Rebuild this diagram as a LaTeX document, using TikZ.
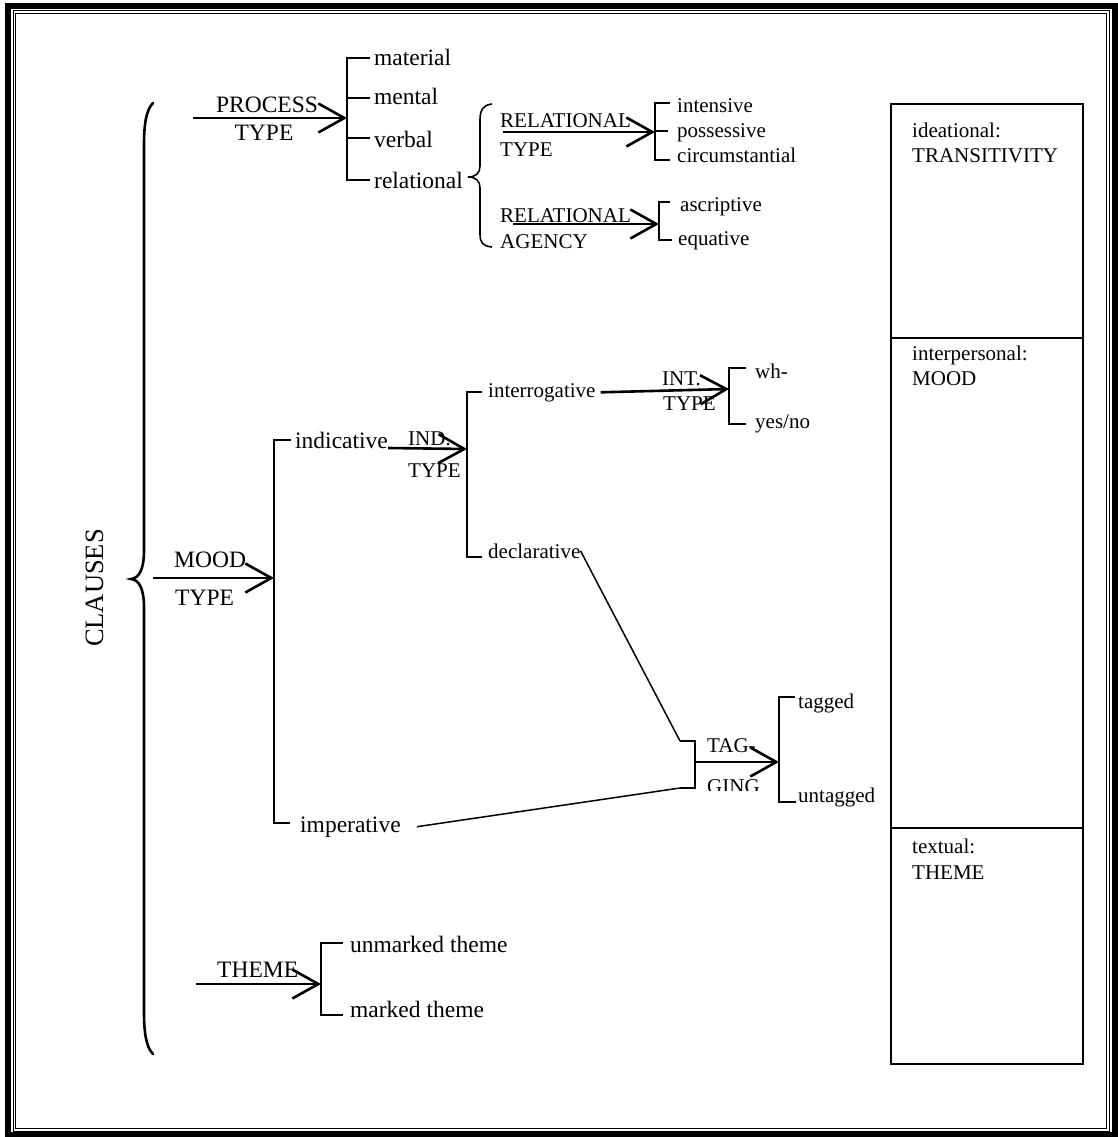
\documentclass[tikz,border=0pt]{standalone}
\usepackage{fontspec}
\setmainfont{Liberation Serif}
\usepackage{tikz}
\usetikzlibrary{arrows.meta}

\begin{document}
\begin{tikzpicture}[x=1pt, y=-1pt,
    lab/.style={font=\fontsize{23.5}{28}\selectfont, inner sep=0pt, anchor=base west},
    sublab/.style={font=\fontsize{21}{25}\selectfont, inner sep=0pt, anchor=base west},
    sysarrow/.style={line width=2.6pt, -{Straight Barb[length=26pt, width=29pt, line width=2.6pt]}},
    brk/.style={line width=1.9pt},
    joinline/.style={line width=1.5pt}]
        \useasboundingbox (0,0) rectangle (1118,1137);
        % page frame
        \draw[line width=6pt] (8,6) rectangle (1114.5,1134.5);
        \draw[line width=0.9pt] (13,10.8) rectangle (1109,1131);
        \draw[line width=0.9pt] (15.5,13.2) rectangle (1106.5,1128);
        % clauses brace
        \draw[line width=2.6pt, line cap=round] (153,103) .. controls (146,110) and (144,125) .. (144,145) -- (144,550)
          .. controls (144,570) and (139,578) .. (131,579) .. controls (139,580) and (144,588) .. (144,608)
          -- (144,1012) .. controls (144,1032) and (146,1047) .. (153,1054);
        \node[font=\fontsize{26.5}{32}\selectfont, inner sep=0pt, rotate=90, anchor=base] (clauses) at (103,588) {CLAUSES};
        % process type
        \node[lab, anchor=base] (proc) at (267,113) {PROCESS};
        \node[lab, anchor=base] (proctype) at (264,140) {TYPE};
        \coordinate (procin) at (193,118);
        \coordinate (procbr) at (347,118);
        \draw[sysarrow] (procin) -- (procbr);
        \draw[brk] (370,58) -- (347,58) -- (347,180) -- (370,180) (347,98) -- (370,98) (347,138) -- (370,138);
        \node[lab] (material) at (374,66) {material};
        \node[lab] (mental) at (374,105) {mental};
        \node[lab] (verbal) at (374,147) {verbal};
        \node[lab] (relational) at (374,188) {relational};
        % relational brace
        \draw[line width=1.6pt] (492,104) .. controls (483,105) and (480,110) .. (480,120) -- (480,166)
          .. controls (480,173) and (476,177) .. (468,177) .. controls (476,177) and (480,181) .. (480,188)
          -- (480,234) .. controls (480,243) and (483,246) .. (492,247);
        \node[sublab] (reltype) at (500,128) {RELATIONAL};
        \node[sublab] (reltype2) at (500,157) {TYPE};
        \coordinate (relin) at (503,132);
        \coordinate (relbr) at (655,132);
        \draw[sysarrow] (relin) -- (relbr);
        \draw[brk] (670,103) -- (655,103) -- (655,160) -- (670,160) (655,131) -- (668,131);
        \node[sublab] (intensive) at (677,113) {intensive};
        \node[sublab] (possessive) at (677,138) {possessive};
        \node[sublab] (circum) at (677,162) {circumstantial};
        \node[sublab] (relag) at (500,222) {RELATIONAL};
        \node[sublab] (relag2) at (500,248) {AGENCY};
        \coordinate (agin) at (513,224);
        \coordinate (agbr) at (659,224);
        \draw[sysarrow] (agin) -- (agbr);
        \draw[brk] (670,202) -- (659,202) -- (659,240) -- (672,240);
        \node[sublab] (ascriptive) at (680,211) {ascriptive};
        \node[sublab] (equative) at (678,245) {equative};
        % mood type
        \node[lab] (mood) at (174,567) {MOOD};
        \node[lab] (moodtype) at (175,605) {TYPE};
        \coordinate (moodin) at (153,578);
        \coordinate (moodbr) at (274,578);
        \draw[sysarrow] (moodin) -- (moodbr);
        \draw[brk] (291,440) -- (274,440) -- (274,823) -- (290,823);
        \node[lab] (indicative) at (295,448) {indicative};
        \node[lab] (imperative) at (300,832) {imperative};
        \node[sublab] (ind) at (408,445) {IND.};
        \node[sublab] (indtype) at (408,477) {TYPE};
        \coordinate (indbr) at (467,449);
        \draw[sysarrow] (indicative.base east) -- (indbr);
        \draw[brk] (482,392) -- (467,392) -- (467,557) -- (482,557);
        \node[sublab] (interrogative) at (488,397) {interrogative};
        \node[sublab] (declarative) at (488,558) {declarative};
        \node[sublab] (int) at (662,385) {INT.};
        \node[sublab] (inttype) at (663,410) {TYPE};
        \coordinate (intbr) at (729,389);
        \draw[sysarrow] ([xshift=5pt]interrogative.east) -- (intbr);
        \draw[brk] (746,368) -- (729,368) -- (729,424) -- (746,424);
        \node[sublab] (wh) at (755,378) {wh-};
        \node[sublab] (yesno) at (755,428) {yes/no};
        % tagging
        \coordinate (tagtop) at (680,741);
        \coordinate (tagbot) at (680,788);
        \draw[joinline] (declarative.east) -- (tagtop);
        \draw[joinline] ([xshift=16pt]imperative.east) -- (tagbot);
        \draw[brk] (tagtop) -- (695,741) -- (695,788) -- (tagbot);
        \node[sublab] (tag) at (707,752) {TAG-};
        \begin{scope}
          \clip (700,770) rectangle (770,790.5);
          \node[sublab] (ging) at (707,793) {GING};
        \end{scope}
        \coordinate (tagin) at (695,762);
        \coordinate (tagbr) at (779,762);
        \draw[sysarrow] (tagin) -- (tagbr);
        \draw[brk] (795,697) -- (779,697) -- (779,802) -- (796,802);
        \node[sublab] (tagged) at (798,708) {tagged};
        \node[sublab] (untagged) at (798,802) {untagged};
        % theme
        \node[lab] (theme) at (217,977) {THEME};
        \coordinate (themein) at (196,984);
        \coordinate (themebr) at (321,984);
        \draw[sysarrow] (themein) -- (themebr);
        \draw[brk] (343,943) -- (321,943) -- (321,1015) -- (343,1015);
        \node[lab] (unmarked) at (350,952) {unmarked theme};
        \node[lab] (marked) at (350,1017) {marked theme};
        % metafunctions
        \draw[line width=1.9pt] (891,104) rectangle (1083,1064);
        \draw[line width=1.9pt] (891,338) -- (1083,338) (891,828) -- (1083,828);
        \node[sublab] (ideational) at (912,137) {ideational:};
        \node[sublab] (transitivity) at (912,162) {TRANSITIVITY};
        \node[sublab] (interpersonal) at (912,360) {interpersonal:};
        \node[sublab] (moodsys) at (912,385) {MOOD};
        \node[sublab] (textual) at (912,853) {textual:};
        \node[sublab] (themesys) at (912,879) {THEME};
      \end{tikzpicture}
\end{document}
